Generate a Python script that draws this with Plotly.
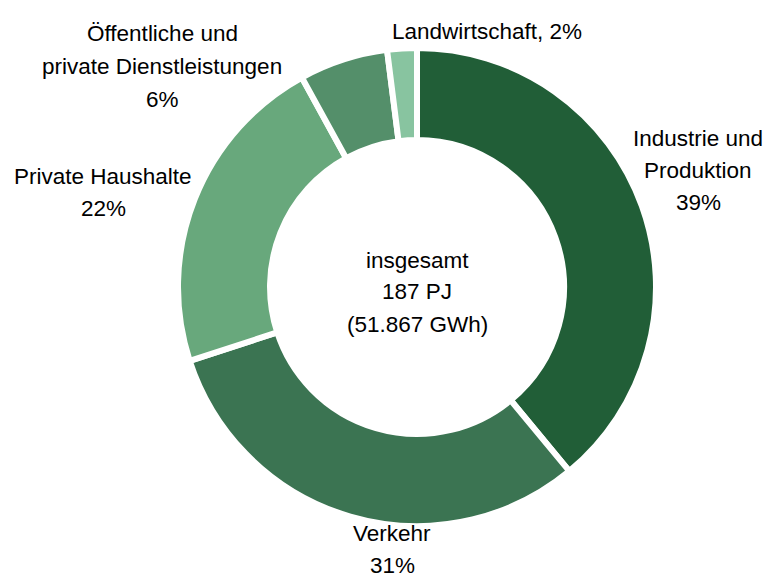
import plotly.graph_objects as go

# Endenergieverbrauch nach Sektoren (Anteile in %), im Uhrzeigersinn ab 12 Uhr
sectors = [
    "Industrie und Produktion",
    "Verkehr",
    "Private Haushalte",
    "Öffentliche und private Dienstleistungen",
    "Landwirtschaft",
]
shares = [39, 31, 22, 6, 2]
colors = ["#215e37", "#3b7452", "#68a87c", "#548f6a", "#88c4a0"]

# Zeilenumbruch der Beschriftungen
label_lines = [
    ["Industrie und", "Produktion"],
    ["Verkehr"],
    ["Private Haushalte"],
    ["Öffentliche und", "private Dienstleistungen"],
    ["Landwirtschaft"],
]
percent_inline = [False, False, False, False, True]

center_lines = ["insgesamt", "187 PJ", "(51.867 GWh)"]

W, H = 769, 577
FONT = "Liberation Sans, Arial, sans-serif"
FONT_SIZE = 22.5
LINE_STEP = 32.5

# Anker (Pixel) der ersten Zeile jeder Beschriftung
label_anchor = [(698, 138), (392, 533), (103, 176), (162, 34), (487, 32)]

fig = go.Figure(
    go.Pie(
        labels=sectors,
        values=shares,
        sort=False,
        direction="clockwise",
        rotation=0,
        hole=0.615,
        marker=dict(colors=colors, line=dict(color="white", width=6)),
        textinfo="none",
        hoverinfo="label+percent",
        domain=dict(x=[(417 - 239) / W, (417 + 239) / W],
                    y=[(290 - 239) / H, (290 + 239) / H]),
        showlegend=False,
    )
)

annotations = []


def add_line(text, px, py):
    annotations.append(dict(
        text=text, x=px / W, y=1 - py / H, xref="paper", yref="paper",
        xanchor="center", yanchor="middle", showarrow=False,
        font=dict(family=FONT, size=FONT_SIZE, color="#000000"),
    ))


for lines, share, inline, (ax, ay) in zip(label_lines, shares, percent_inline, label_anchor):
    rows = list(lines)
    if inline:
        rows[-1] = f"{rows[-1]}, {share}%"
    else:
        rows.append(f"{share}%")
    for i, row in enumerate(rows):
        add_line(row, ax, ay + i * LINE_STEP)

for i, row in enumerate(center_lines):
    add_line(row, 417, 260 + i * 32)

fig.update_layout(
    width=W,
    height=H,
    margin=dict(l=0, r=0, t=0, b=0),
    paper_bgcolor="white",
    plot_bgcolor="white",
    annotations=annotations,
)

fig.write_html("out.html")
